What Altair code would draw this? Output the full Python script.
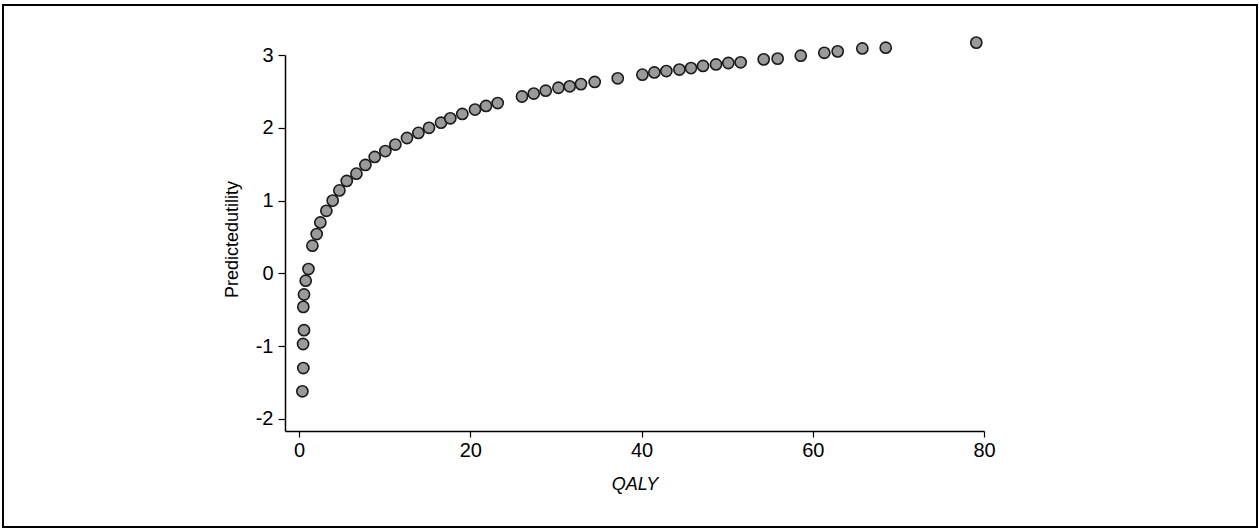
import altair as alt
import pandas as pd

qaly = [0.39, 0.50, 0.47, 0.58, 0.50, 0.58, 0.78, 1.10, 1.56, 2.06, 2.49, 3.19, 3.93, 4.71,
        5.57, 6.70, 7.75, 8.84, 10.08, 11.25, 12.61, 13.94, 15.18, 16.58, 17.67, 19.07,
        20.55, 21.84, 23.2, 26.04, 27.41, 28.81, 30.29, 31.61, 32.93, 34.53, 37.22, 40.1,
        41.5, 42.9, 44.42, 45.78, 47.18, 48.7, 50.14, 51.58, 54.27, 55.9, 58.6, 61.35,
        62.91, 65.79, 68.52, 79.1]
utility = [-1.62, -1.30, -0.97, -0.78, -0.46, -0.29, -0.10, 0.06, 0.38, 0.54, 0.70, 0.86, 1.00, 1.14,
           1.27, 1.37, 1.49, 1.60, 1.68, 1.77, 1.86, 1.93, 2.00, 2.07, 2.13, 2.19,
           2.25, 2.30, 2.34, 2.43, 2.47, 2.51, 2.55, 2.57, 2.60, 2.63, 2.68, 2.73,
           2.76, 2.78, 2.80, 2.82, 2.85, 2.87, 2.89, 2.90, 2.94, 2.95, 2.99, 3.03,
           3.05, 3.09, 3.10, 3.17]

x_ticks = [0, 20, 40, 60, 80]
y_ticks = [-2, -1, 0, 1, 2, 3]

df = pd.DataFrame({"QALY": qaly, "Predictedutility": utility})

FONT = "Liberation Sans"
FS = 20
TFS = 18
W, H = 699, 376

points = alt.Chart(df).mark_point(
    filled=True, shape="circle", size=125, fill="#9a9a9a", stroke="#1a1a1a",
    strokeWidth=1.6, opacity=1
).encode(
    x=alt.X("QALY:Q",
            scale=alt.Scale(domain=[-1.64, 80], nice=False, zero=False),
            axis=alt.Axis(values=x_ticks, title="QALY", grid=False, domainColor="black",
                          tickColor="black", tickSize=6, labelFontSize=FS, labelFont=FONT,
                          labelColor="black", labelPadding=3, titleFont=FONT,
                          labelExpr="toString(datum.value)",
                          titleFontSize=TFS, titleFontStyle="italic", titleFontWeight="normal",
                          titleColor="black", titleX=W / 2, titleY=53,
                          titleBaseline="middle", titleAlign="center",
                          domainWidth=1.5, tickWidth=1.2, labelFlush=False)),
    y=alt.Y("Predictedutility:Q",
            scale=alt.Scale(domain=[-2.165, 3], nice=False, zero=False),
            axis=alt.Axis(values=y_ticks, title="Predictedutility", grid=False,
                          domainColor="black", tickColor="black", tickSize=7,
                          labelFontSize=FS, labelFont=FONT, labelColor="black",
                          labelExpr="toString(datum.value)",
                          labelPadding=5, titleFont=FONT, titleFontSize=TFS,
                          titleFontWeight="normal", titleColor="black",
                          titleX=-53, titleY=184, titleAngle=270,
                          titleBaseline="middle", titleAlign="center",
                          domainWidth=1.5, tickWidth=1.2, labelFlush=False)),
)

frame = alt.Chart(pd.DataFrame({"a": [0]})).mark_rect(
    fill=None, stroke="black", strokeWidth=2
).encode(
    x=alt.value(-282), x2=alt.value(972), y=alt.value(-50), y2=alt.value(472)
)

chart = alt.layer(frame, points).properties(
    width=W, height=H,
    autosize=alt.AutoSizeParams(type="none"),
    padding={"left": 285, "top": 55, "right": 275, "bottom": 98},
    background="white",
).configure_view(stroke=None)

chart.save("out.html", embed_options={"renderer": "svg", "actions": False})
